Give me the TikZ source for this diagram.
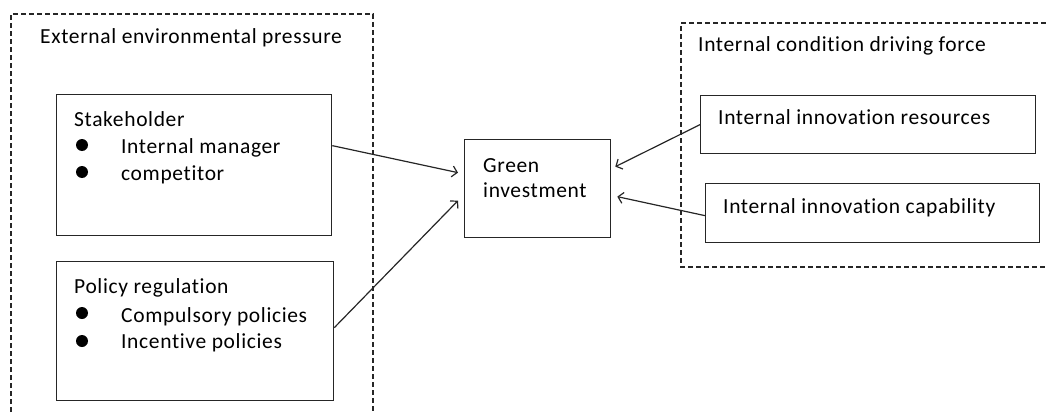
\documentclass[tikz,border=0pt]{standalone}
\usepackage{fontspec}
\setmainfont[Ligatures=NoCommon,LetterSpace=3]{Carlito}
\usetikzlibrary{arrows.meta}
\begin{document}
\begin{tikzpicture}[x=1pt,y=-1pt,
  box/.style={draw,line width=1.3pt,black!85,anchor=north west,inner sep=0pt},
  region/.style={draw,dash pattern=on 5pt off 3pt,line width=1.1pt,black!85},
  lbl/.style={anchor=base west,inner sep=0pt,font=\fontsize{21.5}{26}\selectfont},
  dot/.style={circle,fill,inner sep=0pt,minimum size=12pt},
  arr/.style={-{Straight Barb[length=5pt,width=11pt]},line width=1.2pt,black!85}]
\useasboundingbox (0,0) rectangle (1046,412);
% dashed regions
\draw[region] (11,412) -- (11,14) -- (373,14) -- (373,412);
\draw[region] (1046,23) -- (681,23) -- (681,267) -- (1046,267);
\node[lbl] (ext) at (40,44) {External environmental pressure};
\node[lbl] (intl) at (698,52) {Internal condition driving force};
% boxes
\node[box,minimum width=275pt,minimum height=141pt] (stake) at (56,94) {};
\node[box,minimum width=277pt,minimum height=139pt] (policy) at (56,261) {};
\node[box,minimum width=146pt,minimum height=98pt] (green) at (464,139) {};
\node[box,minimum width=335pt,minimum height=58pt] (res) at (700,95) {};
\node[box,minimum width=334pt,minimum height=59pt] (cap) at (705,183) {};
% texts
\node[lbl] (stakeT) at (74,126) {Stakeholder};
\node[dot] (b1) at (82,145) {};
\node[lbl] (s1) at (121,153) {Internal manager};
\node[dot] (b2) at (82,172) {};
\node[lbl] (s2) at (121,180) {competitor};
\node[lbl] (polT) at (74,293) {Policy regulation};
\node[dot] (b3) at (82,313) {};
\node[lbl] (p1) at (121,322) {Compulsory policies};
\node[dot] (b4) at (82,341) {};
\node[lbl] (p2) at (121,348) {Incentive policies};
\node[lbl] (g1) at (483,172) {Green};
\node[lbl] (g2) at (483,197) {investment};
\node[lbl] (resT) at (718,124) {Internal innovation resources};
\node[lbl] (capT) at (723,213) {Internal innovation capability};
% arrows
\draw[arr] ([yshift=19.5pt]stake.east) -- ([xshift=-6pt,yshift=16pt]green.west);
\draw[arr] ([yshift=3.5pt]policy.east) -- ([xshift=-6pt,yshift=-12pt]green.west);
\draw[arr] (res.west) -- ([xshift=4pt,yshift=22pt]green.east);
\draw[arr] ([yshift=-2.5pt]cap.west) -- ([xshift=6pt,yshift=-8pt]green.east);
\end{tikzpicture}
\end{document}
